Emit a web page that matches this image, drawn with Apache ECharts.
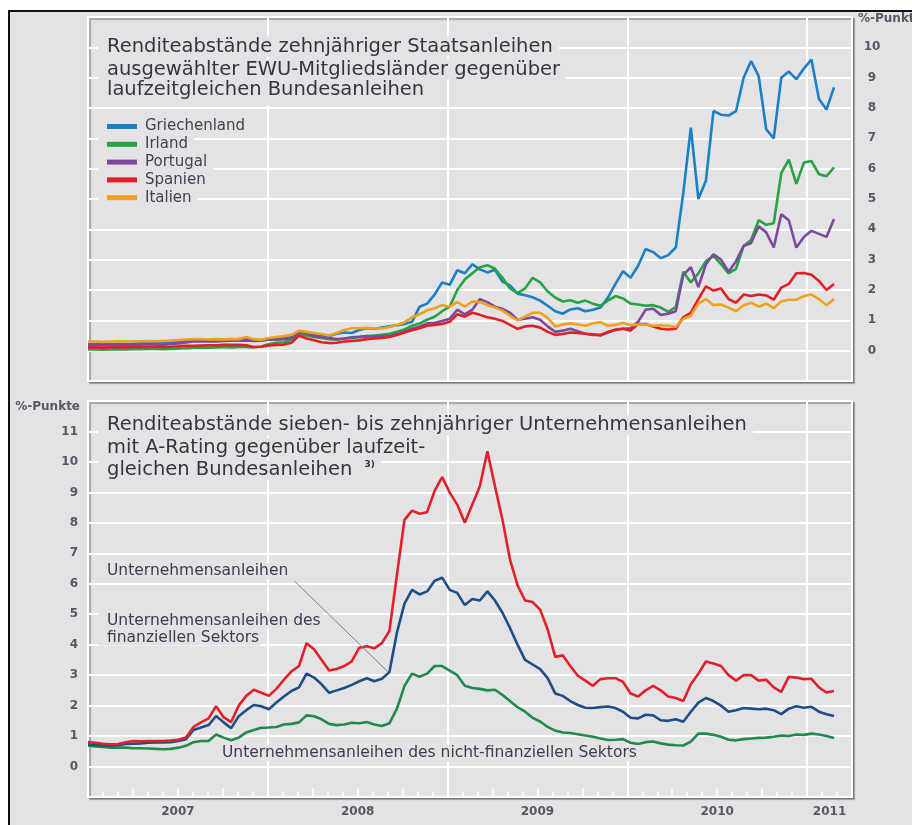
<!DOCTYPE html>
<html>
<head>
<meta charset="utf-8">
<script src="https://cdn.jsdelivr.net/npm/echarts@6/dist/echarts.min.js"></script>
<style>
  html, body { margin: 0; padding: 0; background: #fff; }
  #frame { position: absolute; left: 8px; top: 10px; width: 902px; height: 813px;
           border-top: 2px solid #111; border-left: 2px solid #111; background: #e3e3e5; }
  #chart { width: 902px; height: 813px; }
</style>
</head>
<body>
<div id="frame"><div id="chart"></div></div>
<script>
// months since Jan 2007, roughly semi-monthly observations up to end of Feb 2011
const N = 100;
const lastMonth = 49.8;
const months = Array.from({ length: N }, (_, i) => +(i * lastMonth / (N - 1)).toFixed(3));

const yearNames = ['2007', '2008', '2009', '2010', '2011'];
const yearLabelPos = [6, 18, 30, 42, 49.5];

// top panel: 10y government bond spreads vs. Bunds (%-points)
const countries = ['Griechenland', 'Irland', 'Portugal', 'Spanien', 'Italien'];
const greece = [
  0.22,0.22,0.21,0.22,0.23,0.22,0.23,0.24,0.25,0.26,
  0.27,0.28,0.30,0.32,0.33,0.34,0.32,0.34,0.35,0.34,
  0.38,0.42,0.36,0.34,0.40,0.42,0.44,0.48,0.62,0.58,
  0.52,0.50,0.48,0.56,0.60,0.58,0.68,0.74,0.72,0.76,
  0.80,0.84,0.88,0.95,1.45,1.55,1.85,2.25,2.17,2.65,
  2.55,2.85,2.68,2.58,2.67,2.28,2.15,1.88,1.83,1.76,
  1.65,1.48,1.30,1.22,1.36,1.40,1.30,1.35,1.42,1.75,
  2.20,2.62,2.40,2.80,3.35,3.25,3.05,3.15,3.40,5.20,
  7.35,5.00,5.60,7.90,7.78,7.75,7.90,9.00,9.55,9.05,
  7.30,7.00,9.00,9.20,8.95,9.30,9.60,8.30,7.95,8.68
];
const ireland = [
  0.04,0.04,0.03,0.04,0.05,0.04,0.05,0.05,0.06,0.06,
  0.05,0.06,0.07,0.08,0.10,0.11,0.10,0.11,0.12,0.11,
  0.12,0.12,0.11,0.14,0.22,0.26,0.28,0.36,0.56,0.50,
  0.45,0.42,0.38,0.36,0.40,0.42,0.44,0.48,0.50,0.52,
  0.56,0.62,0.70,0.82,0.90,1.02,1.12,1.30,1.45,2.00,
  2.35,2.55,2.75,2.82,2.70,2.40,2.05,1.90,2.05,2.40,
  2.25,1.95,1.75,1.62,1.66,1.58,1.65,1.55,1.48,1.65,
  1.80,1.72,1.55,1.52,1.48,1.50,1.42,1.28,1.44,2.60,
  2.25,2.55,2.95,3.12,2.85,2.55,2.70,3.45,3.65,4.30,
  4.15,4.20,5.85,6.30,5.50,6.20,6.25,5.82,5.75,6.04
];
const portugal = [
  0.19,0.19,0.18,0.19,0.20,0.19,0.20,0.20,0.21,0.20,
  0.20,0.22,0.24,0.27,0.30,0.30,0.31,0.30,0.32,0.33,
  0.33,0.34,0.32,0.33,0.36,0.36,0.38,0.42,0.62,0.58,
  0.48,0.45,0.42,0.38,0.40,0.44,0.46,0.48,0.46,0.48,
  0.48,0.55,0.62,0.72,0.80,0.90,0.92,0.98,1.05,1.35,
  1.20,1.35,1.70,1.60,1.45,1.38,1.25,1.02,1.05,1.10,
  1.02,0.80,0.62,0.66,0.72,0.64,0.56,0.54,0.50,0.60,
  0.70,0.72,0.74,0.95,1.35,1.38,1.18,1.22,1.30,2.50,
  2.75,2.10,2.85,3.18,3.00,2.60,2.95,3.45,3.55,4.10,
  3.90,3.40,4.50,4.30,3.40,3.75,3.95,3.85,3.75,4.34
];
const spain = [
  0.11,0.11,0.10,0.11,0.12,0.11,0.12,0.12,0.13,0.12,
  0.12,0.13,0.14,0.16,0.16,0.17,0.18,0.18,0.19,0.19,
  0.19,0.18,0.12,0.13,0.17,0.19,0.20,0.26,0.50,0.40,
  0.34,0.28,0.25,0.26,0.30,0.32,0.34,0.38,0.40,0.42,
  0.45,0.52,0.60,0.67,0.74,0.82,0.85,0.88,0.95,1.20,
  1.12,1.25,1.18,1.10,1.05,0.98,0.85,0.72,0.80,0.82,
  0.76,0.62,0.52,0.55,0.60,0.58,0.56,0.52,0.52,0.62,
  0.68,0.72,0.66,0.88,0.88,0.80,0.72,0.70,0.72,1.10,
  1.25,1.70,2.12,1.98,2.05,1.70,1.58,1.85,1.80,1.85,
  1.82,1.68,2.08,2.20,2.55,2.56,2.50,2.30,2.00,2.20
];
const italy = [
  0.30,0.30,0.29,0.30,0.31,0.30,0.31,0.31,0.32,0.31,
  0.32,0.33,0.35,0.37,0.38,0.38,0.37,0.38,0.37,0.38,
  0.38,0.45,0.38,0.36,0.42,0.45,0.48,0.52,0.66,0.62,
  0.58,0.55,0.50,0.58,0.68,0.74,0.74,0.75,0.74,0.73,
  0.78,0.85,0.94,1.10,1.20,1.33,1.40,1.50,1.45,1.60,
  1.45,1.62,1.60,1.50,1.42,1.32,1.15,1.00,1.12,1.25,
  1.25,1.08,0.80,0.86,0.90,0.86,0.82,0.90,0.94,0.82,
  0.85,0.92,0.84,0.86,0.86,0.82,0.84,0.82,0.78,1.05,
  1.15,1.55,1.70,1.50,1.52,1.42,1.30,1.50,1.58,1.45,
  1.55,1.40,1.62,1.68,1.68,1.80,1.85,1.70,1.50,1.70
];

// bottom panel: 7-10y A-rated corporate bond spreads vs. Bunds (%-points)
const corpFinancial = [
  0.80,0.78,0.75,0.73,0.74,0.80,0.84,0.83,0.84,0.84,
  0.84,0.85,0.88,0.95,1.30,1.45,1.58,1.98,1.62,1.46,
  2.00,2.32,2.52,2.42,2.32,2.55,2.85,3.12,3.30,4.05,
  3.85,3.50,3.15,3.20,3.30,3.45,3.90,3.95,3.88,4.05,
  4.45,6.30,8.10,8.40,8.30,8.35,9.05,9.50,9.00,8.60,
  8.00,8.60,9.20,10.35,9.20,8.10,6.80,5.95,5.45,5.40,
  5.15,4.50,3.60,3.65,3.30,2.98,2.82,2.65,2.87,2.90,
  2.90,2.78,2.40,2.30,2.50,2.65,2.50,2.30,2.25,2.15,
  2.70,3.05,3.45,3.38,3.30,3.00,2.82,3.00,3.00,2.82,
  2.85,2.60,2.45,2.95,2.92,2.87,2.88,2.60,2.43,2.48
];
const corpAll = [
  0.73,0.71,0.69,0.68,0.70,0.74,0.75,0.76,0.78,0.79,
  0.79,0.80,0.84,0.90,1.20,1.28,1.36,1.66,1.45,1.26,
  1.65,1.85,2.02,1.98,1.88,2.10,2.30,2.48,2.60,3.05,
  2.92,2.70,2.42,2.50,2.58,2.68,2.80,2.90,2.80,2.88,
  3.10,4.40,5.35,5.80,5.65,5.75,6.10,6.20,5.80,5.70,
  5.30,5.50,5.45,5.75,5.45,5.05,4.55,4.00,3.50,3.35,
  3.20,2.90,2.40,2.32,2.15,2.02,1.93,1.92,1.95,1.97,
  1.92,1.80,1.60,1.58,1.70,1.68,1.52,1.50,1.55,1.47,
  1.80,2.10,2.25,2.15,2.00,1.80,1.85,1.92,1.90,1.88,
  1.90,1.85,1.72,1.90,1.98,1.93,1.96,1.80,1.72,1.66
];
const corpNonFinancial = [
  0.68,0.66,0.64,0.62,0.62,0.62,0.60,0.60,0.59,0.58,
  0.57,0.58,0.62,0.68,0.80,0.84,0.84,1.05,0.95,0.86,
  0.95,1.12,1.20,1.27,1.28,1.30,1.38,1.40,1.45,1.68,
  1.65,1.55,1.40,1.36,1.38,1.44,1.42,1.46,1.38,1.33,
  1.42,1.90,2.65,3.05,2.95,3.05,3.30,3.30,3.15,3.00,
  2.65,2.58,2.55,2.50,2.52,2.35,2.15,1.95,1.80,1.60,
  1.48,1.30,1.18,1.12,1.10,1.06,1.02,0.98,0.92,0.87,
  0.88,0.90,0.78,0.74,0.80,0.82,0.76,0.72,0.70,0.69,
  0.82,1.08,1.08,1.04,0.98,0.88,0.86,0.90,0.92,0.94,
  0.95,0.98,1.02,1.00,1.05,1.04,1.08,1.05,1.00,0.94
];

// leader line of the "Unternehmensanleihen" label, in [month, %-points]
const leaderFrom = [13.8, 6.08];
const leaderTo = [20.0, 3.12];

const font = "'DejaVu Sans', sans-serif";
const bg = '#e3e3e5';
const toPairs = arr => months.map((m, i) => [m, arr[i]]);

const chart = echarts.init(document.getElementById('chart'));

const gridBox = {
  show: true, backgroundColor: bg, borderColor: '#fff', borderWidth: 2,
  shadowColor: 'rgba(0,0,0,0.28)', shadowOffsetX: 2, shadowOffsetY: 2, shadowBlur: 1
};
const xBase = {
  type: 'value', min: 0, max: 51, position: 'bottom',
  axisLine: { show: false }, axisTick: { show: false },
  axisLabel: { show: false }, splitLine: { show: false }
};
const whiteLine = { color: '#fff', width: 2 };
const tickLabel = { color: '#595563', fontSize: 12, fontWeight: 'bold', fontFamily: font };
const lineSeries = (name, data, color, axis) => ({
  name, type: 'line', data: toPairs(data),
  xAxisIndex: axis, yAxisIndex: axis,
  showSymbol: false, symbol: 'none',
  lineStyle: { color, width: 2.6 }, itemStyle: { color }
});
const richLine = (size, lh, extra) => Object.assign({
  fontSize: size, lineHeight: lh, color: '#38343f', fontFamily: font, fontWeight: 'normal',
  backgroundColor: bg, padding: [0, 6, 0, 9]
}, extra || {});

// one legend box per country, each hides the grid lines behind its own row
const legends = countries.map((name, k) => ({
  orient: 'vertical', left: 88, top: 105 + k * 17.8, padding: [1, 6, 1, 9],
  backgroundColor: bg, selectedMode: false,
  icon: 'rect', itemWidth: 30, itemHeight: 5,
  data: [name],
  textStyle: { fontSize: 15, lineHeight: 17, color: '#444050', fontFamily: font, padding: [0, 0, 0, 3] }
}));

const option = {
  animation: false,
  backgroundColor: bg,
  title: [
    {
      left: 88, top: 23, padding: 0,
      text: '{a|Renditeabstände zehnjähriger Staatsanleihen}\n{a|ausgewählter EWU-Mitgliedsländer gegenüber}\n{b|laufzeitgleichen Bundesanleihen}',
      textStyle: { rich: { a: richLine(19.5, 23), b: richLine(19.5, 23, { padding: [0, 6, 6, 9] }) } }
    },
    {
      left: 88, top: 402, padding: 0,
      text: '{a|Renditeabstände sieben- bis zehnjähriger Unternehmensanleihen}\n{a|mit A-Rating gegenüber laufzeit-}\n{a|gleichen Bundesanleihen }{s|3)}',
      textStyle: { rich: {
        a: richLine(19.5, 22.5),
        s: richLine(9, 22.5, { fontWeight: 'bold', verticalAlign: 'top', padding: [1, 6, 0, 0] })
      } }
    },
    {
      left: 88, top: 550, padding: 0,
      text: '{a|Unternehmensanleihen}',
      textStyle: { rich: { a: richLine(15.5, 18, { color: '#3f3a50' }) } }
    },
    {
      left: 88, top: 600, padding: 0,
      text: '{a|Unternehmensanleihen des}\n{a|finanziellen Sektors}',
      textStyle: { rich: { a: richLine(15.5, 17, { color: '#3f3a50', padding: [0, 2, 0, 9] }) } }
    },
    {
      left: 203, top: 732, padding: 0,
      text: '{a|Unternehmensanleihen des nicht-finanziellen Sektors}',
      textStyle: { rich: { a: richLine(15.5, 18, { color: '#3f3a50' }) } }
    },
    {
      // unit of the right-hand axis of the upper panel
      left: 848, top: 0, padding: 0, text: '%-Punkte',
      textStyle: Object.assign({ lineHeight: 14 }, tickLabel)
    }
  ],
  legend: legends,
  grid: [
    Object.assign({}, gridBox, { left: 78, top: 5, width: 764, height: 364 }),
    Object.assign({}, gridBox, { left: 78, top: 389, width: 764, height: 396 })
  ],
  xAxis: [
    Object.assign({}, xBase, { gridIndex: 0, interval: 12, splitLine: { show: true, lineStyle: whiteLine } }),
    Object.assign({}, xBase, { gridIndex: 1, interval: 12, splitLine: { show: true, lineStyle: whiteLine } }),
    Object.assign({}, xBase, {
      gridIndex: 1, interval: 3,
      axisTick: { show: true, inside: true, length: 9, lineStyle: { color: '#fff', width: 1.5 } },
      minorTick: { show: true, splitNumber: 3, length: 5, lineStyle: { color: '#fff', width: 1.5 } }
    }),
    Object.assign({}, xBase, {
      gridIndex: 1, interval: 1.5,
      axisLabel: Object.assign({
        show: true, margin: 9,
        formatter: v => {
          const k = yearLabelPos.indexOf(Math.round(v * 2) / 2);
          return k < 0 ? '' : yearNames[k];
        }
      }, tickLabel)
    })
  ],
  yAxis: [
    {
      type: 'value', gridIndex: 0, position: 'right', min: -1, max: 11, interval: 1,
      axisLine: { show: false }, axisTick: { show: false },
      splitLine: { lineStyle: whiteLine },
      axisLabel: Object.assign({ margin: 20, align: 'center', formatter: v => (v < 0 || v > 10) ? '' : String(v) }, tickLabel)
    },
    {
      type: 'value', gridIndex: 1, position: 'left', min: -1, max: 12, interval: 1,
      name: '%-Punkte', nameLocation: 'end', nameGap: -6,
      nameTextStyle: Object.assign({ align: 'right', verticalAlign: 'middle', padding: [0, 8, 0, 0] }, tickLabel),
      axisLine: { show: false }, axisTick: { show: false },
      splitLine: { lineStyle: whiteLine },
      axisLabel: Object.assign({ margin: 10, formatter: v => (v < 0 || v > 11) ? '' : String(v) }, tickLabel)
    }
  ],
  series: [
    lineSeries('Griechenland', greece, '#1b7fc3', 0),
    lineSeries('Irland', ireland, '#27a341', 0),
    lineSeries('Portugal', portugal, '#7b4a9e', 0),
    lineSeries('Spanien', spain, '#e01f26', 0),
    lineSeries('Italien', italy, '#eea21c', 0),
    lineSeries('Unternehmensanleihen des nicht-finanziellen Sektors', corpNonFinancial, '#1f8a4a', 1),
    Object.assign(lineSeries('Unternehmensanleihen', corpAll, '#1d4f85', 1), {
      markLine: {
        silent: true, symbol: ['none', 'none'], label: { show: false },
        lineStyle: { color: '#808080', width: 1, type: 'solid' },
        data: [[{ coord: leaderFrom }, { coord: leaderTo }]]
      }
    }),
    lineSeries('Unternehmensanleihen des finanziellen Sektors', corpFinancial, '#e2202a', 1)
  ]
};

chart.setOption(option);
window.addEventListener('resize', () => chart.resize());
</script>
</body>
</html>
